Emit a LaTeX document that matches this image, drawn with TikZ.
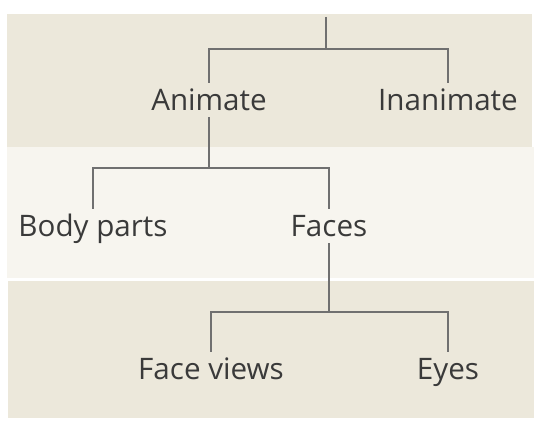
\documentclass[tikz,border=0pt]{standalone}
\usepackage{fontspec}
\setmainfont{Open Sans}
\definecolor{bandA}{HTML}{ECE8DB}
\definecolor{bandB}{HTML}{F7F5EF}
\definecolor{linegray}{HTML}{707070}
\definecolor{textgray}{HTML}{3A3A3A}
\begin{document}
\begin{tikzpicture}[x=1pt, y=-1pt,
    branch/.style={draw=linegray, line width=1.7pt},
    cat/.style={font=\fontsize{29.6}{35}\selectfont, text=textgray, text height=21.2pt, text depth=0pt, inner xsep=0pt, inner ysep=6.4pt}]
    \useasboundingbox (0,0) rectangle (547,425);
    \fill[white] (0,0) rectangle (547,425);
    \fill[bandA] (7,14) rectangle (532,147);
    \fill[bandB] (7,147) rectangle (534,278);
    \fill[bandA] (8,281) rectangle (534,418);

    \coordinate (root) at (326,17);
    \node[cat] (animate) at (209,100) {Animate};
    \node[cat] (inanimate) at (448,100) {Inanimate};
    \node[cat] (body) at (93,226) {Body parts};
    \node[cat] (faces) at (329,226) {Faces};
    \node[cat] (views) at (211,369) {Face views};
    \node[cat] (eyes) at (448,369) {Eyes};

    \draw[branch] (root) -- ++(0,32) coordinate (j1);
    \draw[branch] (animate.north) |- (j1) -| (inanimate.north);
    \draw[branch] (animate.south) -- ++(0,51) coordinate (j2);
    \draw[branch] (body.north) |- (j2) -| (faces.north);
    \draw[branch] (faces.south) -- ++(0,69) coordinate (j3);
    \draw[branch] (views.north) |- (j3) -| (eyes.north);
\end{tikzpicture}
\end{document}
